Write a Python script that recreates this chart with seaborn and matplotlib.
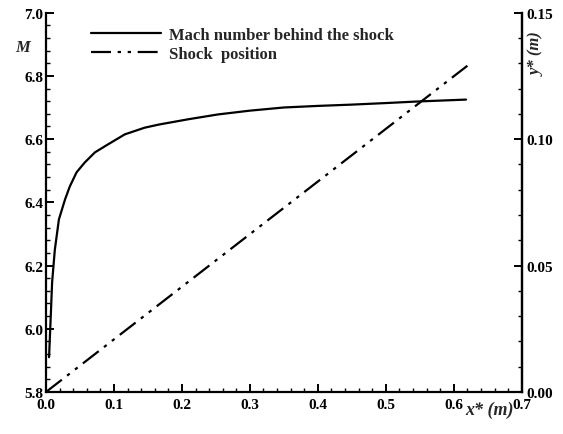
import numpy as np
import pandas as pd
import matplotlib
matplotlib.use("Agg")
import matplotlib.pyplot as plt
import seaborn as sns
from matplotlib.ticker import MultipleLocator, FormatStrFormatter

# Data
mach_x = [0.0045, 0.005, 0.007, 0.009, 0.013, 0.019, 0.028, 0.035, 0.045, 0.057,
          0.072, 0.091, 0.116, 0.145, 0.166, 0.21, 0.253, 0.30, 0.35, 0.40,
          0.449, 0.50, 0.547, 0.618]
mach_M = [5.91, 5.936, 6.04, 6.147, 6.25, 6.346, 6.409, 6.45, 6.495, 6.526,
          6.558, 6.583, 6.615, 6.636, 6.646, 6.663, 6.678, 6.69, 6.70, 6.705,
          6.709, 6.714, 6.719, 6.725]
shock_x = [0.0, 0.62]
shock_y = [0.0, 0.129]

sns.set_theme(style="ticks")
plt.rcParams['font.family'] = ['Liberation Serif', 'DejaVu Serif']
plt.rcParams['font.weight'] = 'bold'

fig = plt.figure(figsize=(5.63, 4.35), dpi=100)
ax = fig.add_axes([0.0817, 0.0966, 0.845, 0.872])
ax2 = ax.twinx()

df_m = pd.DataFrame({"x": mach_x, "M": mach_M})
df_s = pd.DataFrame({"x": shock_x, "y": shock_y})

sns.lineplot(data=df_m, x="x", y="M", ax=ax, color="black", linewidth=1.6,
             label="Mach number behind the shock", legend=False, sort=False)
sns.lineplot(data=df_s, x="x", y="y", ax=ax2, color="black", linewidth=1.6,
             label="Shock  position", legend=False)
ax.lines[0].set_solid_joinstyle('round')
ax2.lines[0].set_linestyle((0, (9, 3, 1.5, 3, 1.5, 3)))

ax.set_xlim(0, 0.7)
ax.set_ylim(5.8, 7.0)
ax2.set_ylim(0, 0.15)

ax.xaxis.set_major_locator(MultipleLocator(0.1))
ax.xaxis.set_minor_locator(MultipleLocator(0.02))
ax.yaxis.set_major_locator(MultipleLocator(0.2))
ax.yaxis.set_minor_locator(MultipleLocator(0.04))
ax2.yaxis.set_major_locator(MultipleLocator(0.05))
ax2.yaxis.set_minor_locator(MultipleLocator(0.01))
ax.xaxis.set_major_formatter(FormatStrFormatter('%.1f'))
ax.yaxis.set_major_formatter(FormatStrFormatter('%.1f'))
ax2.yaxis.set_major_formatter(FormatStrFormatter('%.2f'))

for a in (ax, ax2):
    a.spines['top'].set_visible(False)
    for s in a.spines.values():
        s.set_linewidth(1.6)
        s.set_color('black')
    a.tick_params(which='major', direction='in', length=6, width=1.4, labelsize=11,
                  colors='black', pad=1)
    a.tick_params(which='minor', direction='in', length=3, width=1.0, colors='black')
ax.tick_params(axis='y', which='both', left=True, right=False)
ax.tick_params(axis='x', which='both', bottom=True, top=False)
ax.tick_params(axis='x', which='major', pad=4)
ax.tick_params(axis='y', which='major', pad=2)
ax2.tick_params(axis='y', which='both', left=False, right=True)
ax2.tick_params(axis='y', which='major', pad=3)
ax2.spines['left'].set_visible(False)
ax2.spines['bottom'].set_visible(False)

ax.set_xlabel("")
ax.set_ylabel("")
ax2.set_ylabel("")
ax.grid(False)
ax2.grid(False)

fig.text(0.04, 0.89, "M", fontsize=12, fontstyle='italic', fontweight='bold',
         ha='center', va='center')
fig.text(0.87, 0.045, "x* (m)", fontsize=13, fontstyle='italic', fontweight='bold', ha='center')
fig.text(0.953, 0.875, "y* (m)", fontsize=12, fontstyle='italic', fontweight='bold',
         rotation=90, ha='center', va='center')

handles = ax.get_lines()[:1] + ax2.get_lines()[:1]
labels = ["Mach number behind the shock", "Shock  position"]
leg = ax.legend(handles, labels, loc='upper left', bbox_to_anchor=(0.08, 0.98),
                frameon=False, fontsize=12, handlelength=4.2, handletextpad=0.5,
                labelspacing=0.2, borderaxespad=0)
for t in leg.get_texts():
    t.set_fontweight('bold')

fig.savefig("out.png", dpi=100)
